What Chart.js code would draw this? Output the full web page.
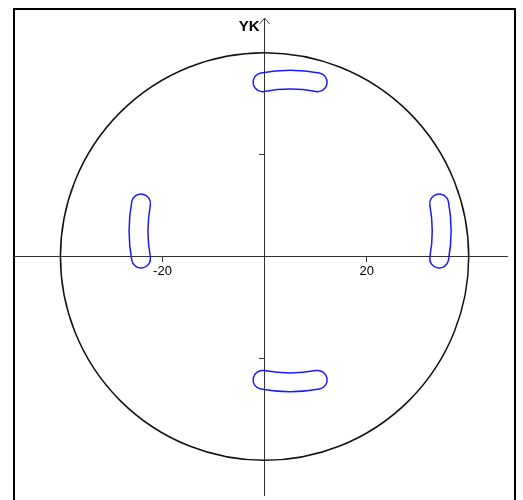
<!DOCTYPE html>
<html>
<head>
<meta charset="utf-8">
<script src="https://cdn.jsdelivr.net/npm/chart.js@4"></script>
<style>
  html, body { margin: 0; padding: 0; background: #fff; overflow: hidden; }
  .frame { position: absolute; left: 13px; top: 8px; width: 499px; height: 520px; border: 2px solid #000; }
  #plate { position: absolute; left: 0; top: 0; }
</style>
</head>
<body>
<div class="frame"></div>
<canvas id="plate" width="523" height="500"></canvas>
<script>
// axis ranges (plate units) and ticks
const xRange = [-49.1, 47.5];
const yRange = [-46.8, 46.8];
const xTicks = [-20, 20];
const yTicks = [-20, 20];
const axisTitle = 'YK';

// outer rim of the plate
const rimRadius = 40;

// slot pattern: centre, pitch radius, slot width, slot directions (deg), angular span (deg)
const slotCentre = [5, 5];
const slotPitch = 29.7;
const slotWidth = 3.7;
const slotAngles = [90, 0, 180, 270];
const slotSpan = 21;

const platePlugin = {
    id: 'plate',
    afterDraw(chart) {
        const { ctx, chartArea, scales: { x, y } } = chart;
        const x0 = x.getPixelForValue(0);
        const y0 = y.getPixelForValue(0);
        const sx = x.getPixelForValue(1) - x0;
        const sy = y0 - y.getPixelForValue(1);
        ctx.save();

        // rim
        ctx.beginPath();
        ctx.ellipse(x0, y0, rimRadius * sx, rimRadius * sy, 0, 0, Math.PI * 2);
        ctx.strokeStyle = '#111';
        ctx.lineWidth = 1.5;
        ctx.stroke();

        // curved slots
        ctx.strokeStyle = '#1a1aff';
        ctx.lineWidth = 1.5;
        slotAngles.forEach(deg => {
            const mid = deg * Math.PI / 180;
            const half = slotSpan / 2 * Math.PI / 180;
            const a1 = mid - half, a2 = mid + half;
            const r = slotWidth / 2;
            ctx.save();
            ctx.translate(x.getPixelForValue(slotCentre[0]), y.getPixelForValue(slotCentre[1]));
            ctx.scale(sx, -sy);
            ctx.beginPath();
            ctx.arc(0, 0, slotPitch + r, a1, a2);
            ctx.arc(slotPitch * Math.cos(a2), slotPitch * Math.sin(a2), r, a2, a2 + Math.PI);
            ctx.arc(0, 0, slotPitch - r, a2, a1, true);
            ctx.arc(slotPitch * Math.cos(a1), slotPitch * Math.sin(a1), r, a1 + Math.PI, a1 + 2 * Math.PI);
            ctx.closePath();
            ctx.restore();
            ctx.stroke();
        });

        // arrow head and title on the vertical axis
        const top = chartArea.top;
        ctx.strokeStyle = '#444';
        ctx.lineWidth = 1;
        ctx.beginPath();
        ctx.moveTo(x0 - 5, top + 6);
        ctx.lineTo(x0, top);
        ctx.lineTo(x0 + 5, top + 6);
        ctx.stroke();
        ctx.fillStyle = '#000';
        ctx.font = 'bold 15px "Liberation Sans", Arial, sans-serif';
        ctx.textAlign = 'right';
        ctx.textBaseline = 'top';
        ctx.fillText(axisTitle, x0 - 5, top + 1);
        ctx.restore();
    }
};

const axisGrid = { drawOnChartArea: false, tickLength: 5, color: '#333', tickWidth: 1 };
const axisBorder = { color: '#333', width: 1 };

new Chart(document.getElementById('plate'), {
    type: 'scatter',
    data: { datasets: [] },
    options: {
        responsive: false,
        animation: false,
        layout: { padding: { left: 14, right: 16, top: 18, bottom: 5 } },
        plugins: { legend: { display: false }, tooltip: { enabled: false } },
        scales: {
            x: {
                type: 'linear',
                min: xRange[0],
                max: xRange[1],
                position: { y: 0 },
                afterBuildTicks: s => { s.ticks = xTicks.map(v => ({ value: v })); },
                afterFit: s => { s.height = 0; },
                grid: axisGrid,
                border: axisBorder,
                ticks: {
                    color: '#000',
                    font: { family: '"Liberation Sans", Arial, sans-serif', size: 13 },
                    padding: 2,
                    maxRotation: 0,
                    autoSkip: false
                }
            },
            y: {
                type: 'linear',
                min: yRange[0],
                max: yRange[1],
                position: { x: 0 },
                afterBuildTicks: s => { s.ticks = yTicks.map(v => ({ value: v })); },
                afterFit: s => { s.width = 0; },
                grid: axisGrid,
                border: axisBorder,
                ticks: { display: false }
            }
        }
    },
    plugins: [platePlugin]
});
</script>
</body>
</html>
